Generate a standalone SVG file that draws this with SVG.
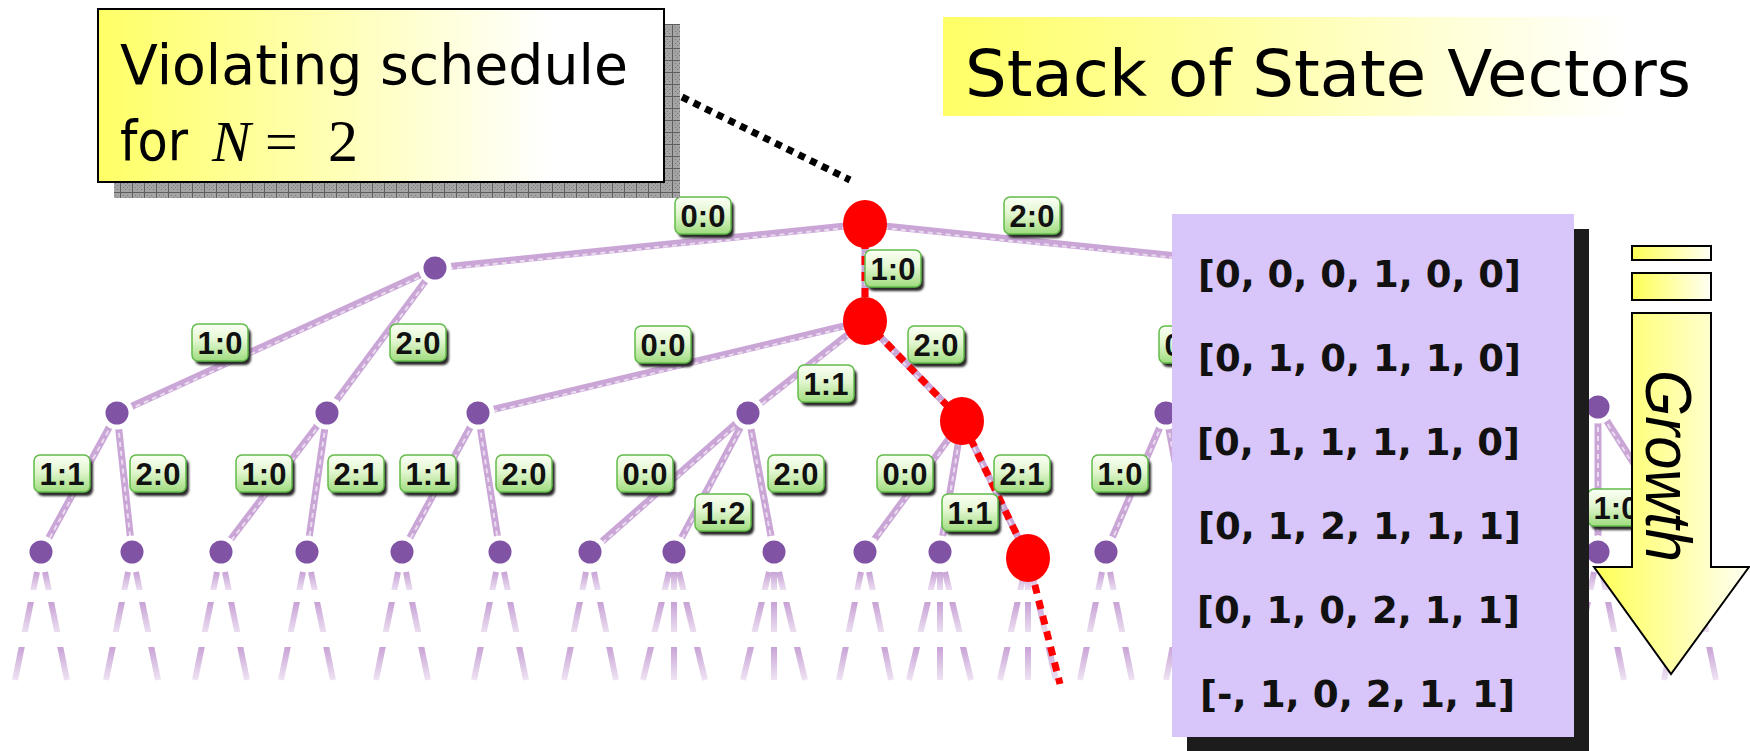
<svg xmlns="http://www.w3.org/2000/svg" xmlns:xlink="http://www.w3.org/1999/xlink" width="1750" height="751" viewBox="0 0 1750 751">
  <defs>
    <style>
      .edge { fill: none; stroke: #CAA6D7; stroke-width: 7; }
      .tex { fill: none; stroke: #F3E8F6; stroke-width: 2; stroke-dasharray: 5 4; opacity: 0.8; }
      .stub { fill: none; stroke: url(#fade); stroke-width: 6; }
      .node { fill: #8053A5; stroke: #FFFFFF; stroke-width: 5; }
      .hot { fill: #FF0000; }
      .trail { fill: none; stroke: #FF0000; stroke-width: 7; stroke-dasharray: 9 7; }
      .pointer { fill: none; stroke: #000000; stroke-width: 7; stroke-dasharray: 7 6; }
      .tag text { font-family: "Liberation Sans", Arial, sans-serif; font-weight: bold; font-size: 31px; fill: #111111; text-anchor: middle; }
      .head { font-family: "DejaVu Sans", Verdana, sans-serif; fill: #000000; }
      .vec { font-family: "DejaVu Sans", Verdana, sans-serif; font-weight: bold; font-size: 38px; fill: #111111; }
      .math { font-family: "Liberation Serif", "Times New Roman", serif; fill: #000000; }
    </style>
    <linearGradient id="callFill" x1="0" y1="0" x2="1" y2="0">
      <stop offset="0" stop-color="#FFFF66"/>
      <stop offset="0.8" stop-color="#FFFFFF"/>
    </linearGradient>
    <linearGradient id="titleFill" x1="0" y1="0" x2="1" y2="0">
      <stop offset="0" stop-color="#FFFF66"/>
      <stop offset="0.85" stop-color="#FFFFFF"/>
    </linearGradient>
    <linearGradient id="arrowFill" x1="0" y1="0" x2="1" y2="0">
      <stop offset="0" stop-color="#FFFF55"/>
      <stop offset="1" stop-color="#FFFFF4"/>
    </linearGradient>
    <linearGradient id="green" x1="0" y1="0" x2="0" y2="1">
      <stop offset="0" stop-color="#FBFFF5"/>
      <stop offset="0.45" stop-color="#E2F6D0"/>
      <stop offset="1" stop-color="#9FDC7E"/>
    </linearGradient>
    <linearGradient id="fade" gradientUnits="userSpaceOnUse" x1="0" y1="572" x2="0" y2="680">
      <stop offset="0" stop-color="#C8A2D6" stop-opacity="1"/>
      <stop offset="0.17" stop-color="#C8A2D6" stop-opacity="0.35"/>
      <stop offset="0.17" stop-color="#C8A2D6" stop-opacity="0"/>
      <stop offset="0.28" stop-color="#C8A2D6" stop-opacity="0"/>
      <stop offset="0.28" stop-color="#C8A2D6" stop-opacity="1"/>
      <stop offset="0.56" stop-color="#C8A2D6" stop-opacity="0.35"/>
      <stop offset="0.56" stop-color="#C8A2D6" stop-opacity="0"/>
      <stop offset="0.69" stop-color="#C8A2D6" stop-opacity="0"/>
      <stop offset="0.69" stop-color="#C8A2D6" stop-opacity="1"/>
      <stop offset="1" stop-color="#C8A2D6" stop-opacity="0.3"/>
    </linearGradient>
    <pattern id="hatch" width="12" height="12" patternUnits="userSpaceOnUse">
      <rect width="12" height="12" fill="#A4A4A4"/>
      <path d="M0 0.5H12M0.5 0V12" stroke="#5E5E5E" stroke-width="1"/>
      <path d="M3 3h1v1h-1zM7 3h1v1h-1zM5 5h1v1h-1zM9 5h1v1h-1zM3 7h1v1h-1zM7 7h1v1h-1zM5 9h1v1h-1zM9 9h1v1h-1z" fill="#787878"/>
    </pattern>
    <filter id="soft" x="-20%" y="-20%" width="140%" height="140%">
      <feGaussianBlur stdDeviation="1"/>
    </filter>
    <!-- edge label plate: shadow + green rounded box -->
    <g id="tag">
      <rect x="-25" y="-15" width="56" height="37" rx="6" fill="#2B2B2B" filter="url(#soft)"/>
      <rect x="-28" y="-19" width="56" height="37" rx="6" fill="url(#green)" stroke="#62BC4A" stroke-width="1.5"/>
    </g>
    <!-- all tree edges, parent to child -->
    <path id="edgeSet" d="M865,224 L435,268 M865,224 L865,321 M865,224 L1295,268
      M435,268 L117,413 M435,268 L327,413
      M865,321 L478,413 M865,321 L748,413 M865,321 L962,421
      M1295,268 L1166,413 M1295,268 L1598,407
      M117,413 L41,552 M117,413 L132,552
      M327,413 L221,552 M327,413 L307,552
      M478,413 L402,552 M478,413 L500,552
      M748,413 L590,552 M748,413 L674,552 M748,413 L774,552
      M962,421 L865,552 M962,421 L940,552 M962,421 L1028,558
      M1166,413 L1106,552 M1166,413 L1192,552
      M1598,407 L1598,552 M1598,407 L1690,552"/>
    <clipPath id="leftOfStack">
      <rect x="0" y="0" width="1172" height="751"/>
    </clipPath>
  </defs>

  <rect width="1750" height="751" fill="#FFFFFF"/>

  <!-- connectors -->
  <g id="connectors">
    <use xlink:href="#edgeSet" class="edge"/>
    <use xlink:href="#edgeSet" class="tex" transform="translate(0,2)"/>
    <!-- unexplored continuation below the deepest level -->
    <path class="stub" d="
      M37,572 L15,680 M45,572 L67,680
      M128,572 L106,680 M136,572 L158,680
      M217,572 L195,680 M225,572 L247,680
      M303,572 L281,680 M311,572 L333,680
      M398,572 L376,680 M406,572 L428,680
      M496,572 L474,680 M504,572 L526,680
      M586,572 L564,680 M594,572 L616,680
      M669,572 L643,680 M674,572 L674,680 M679,572 L705,680
      M769,572 L743,680 M774,572 L774,680 M779,572 L805,680
      M861,572 L839,680 M869,572 L891,680
      M935,572 L909,680 M940,572 L940,680 M945,572 L971,680
      M1023,578 L1000,680 M1028,578 L1028,680 M1033,578 L1056,680
      M1102,572 L1080,680 M1110,572 L1132,680
      M1188,572 L1166,680 M1196,572 L1218,680
      M1594,572 L1572,680 M1602,572 L1624,680
      M1686,572 L1664,680 M1694,572 L1716,680"/>
    <!-- violating schedule path -->
    <path class="trail" d="M865,224 V321 L962,421 L1028,558 L1060,684"/>
    <!-- callout pointer -->
    <path class="pointer" d="M682,97 L850,180"/>
  </g>

  <!-- edge labels (process:step) -->
  <g id="edge-labels" class="tag">
    <g transform="translate(703,216)"><use xlink:href="#tag"/><text y="11">0:0</text></g>
    <g transform="translate(1032,216)"><use xlink:href="#tag"/><text y="11">2:0</text></g>
    <g transform="translate(893,269)"><use xlink:href="#tag"/><text y="11">1:0</text></g>
    <g transform="translate(220,343)"><use xlink:href="#tag"/><text y="11">1:0</text></g>
    <g transform="translate(418,343)"><use xlink:href="#tag"/><text y="11">2:0</text></g>
    <g transform="translate(663,345)"><use xlink:href="#tag"/><text y="11">0:0</text></g>
    <g transform="translate(826,384)"><use xlink:href="#tag"/><text y="11">1:1</text></g>
    <g transform="translate(936,345)"><use xlink:href="#tag"/><text y="11">2:0</text></g>
    <g clip-path="url(#leftOfStack)">
      <g transform="translate(1187,345)"><use xlink:href="#tag"/><text x="-14" y="11">0</text></g>
    </g>
    <g transform="translate(62,474)"><use xlink:href="#tag"/><text y="11">1:1</text></g>
    <g transform="translate(158,474)"><use xlink:href="#tag"/><text y="11">2:0</text></g>
    <g transform="translate(264,474)"><use xlink:href="#tag"/><text y="11">1:0</text></g>
    <g transform="translate(356,474)"><use xlink:href="#tag"/><text y="11">2:1</text></g>
    <g transform="translate(428,474)"><use xlink:href="#tag"/><text y="11">1:1</text></g>
    <g transform="translate(524,474)"><use xlink:href="#tag"/><text y="11">2:0</text></g>
    <g transform="translate(645,474)"><use xlink:href="#tag"/><text y="11">0:0</text></g>
    <g transform="translate(723,513)"><use xlink:href="#tag"/><text y="11">1:2</text></g>
    <g transform="translate(796,474)"><use xlink:href="#tag"/><text y="11">2:0</text></g>
    <g transform="translate(905,474)"><use xlink:href="#tag"/><text y="11">0:0</text></g>
    <g transform="translate(970,513)"><use xlink:href="#tag"/><text y="11">1:1</text></g>
    <g transform="translate(1022,474)"><use xlink:href="#tag"/><text y="11">2:1</text></g>
    <g transform="translate(1120,474)"><use xlink:href="#tag"/><text y="11">1:0</text></g>
    <g transform="translate(1616,508)"><use xlink:href="#tag"/><text y="11">1:0</text></g>
  </g>

  <!-- state nodes -->
  <g id="n-root"><ellipse class="hot" cx="865" cy="224" rx="22" ry="24"/></g>
  <g id="n-1"><ellipse class="hot" cx="865" cy="321" rx="22" ry="24"/></g>
  <g id="n-0"><circle class="node" cx="435" cy="268" r="14"/></g>
  <g id="n-10"><circle class="node" cx="117" cy="413" r="14"/></g>
  <g id="n-20"><circle class="node" cx="327" cy="413" r="14"/></g>
  <g id="n-100"><circle class="node" cx="478" cy="413" r="14"/></g>
  <g id="n-111"><circle class="node" cx="748" cy="413" r="14"/></g>
  <g id="n-120"><ellipse class="hot" cx="962" cy="421" rx="22" ry="24"/></g>
  <g id="n-200"><circle class="node" cx="1166" cy="413" r="14"/></g>
  <g id="n-210"><circle class="node" cx="1598" cy="407" r="14"/></g>
  <g id="n-l3a"><circle class="node" cx="41" cy="552" r="14"/></g>
  <g id="n-l3b"><circle class="node" cx="132" cy="552" r="14"/></g>
  <g id="n-l3c"><circle class="node" cx="221" cy="552" r="14"/></g>
  <g id="n-l3d"><circle class="node" cx="307" cy="552" r="14"/></g>
  <g id="n-l3e"><circle class="node" cx="402" cy="552" r="14"/></g>
  <g id="n-l3f"><circle class="node" cx="500" cy="552" r="14"/></g>
  <g id="n-l3g"><circle class="node" cx="590" cy="552" r="14"/></g>
  <g id="n-l3h"><circle class="node" cx="674" cy="552" r="14"/></g>
  <g id="n-l3i"><circle class="node" cx="774" cy="552" r="14"/></g>
  <g id="n-l3j"><circle class="node" cx="865" cy="552" r="14"/></g>
  <g id="n-l3k"><circle class="node" cx="940" cy="552" r="14"/></g>
  <g id="n-l3l"><ellipse class="hot" cx="1028" cy="558" rx="22" ry="24"/></g>
  <g id="n-l3m"><circle class="node" cx="1106" cy="552" r="14"/></g>
  <g id="n-l3n"><circle class="node" cx="1598" cy="552" r="14"/></g>

  <!-- stack of state vectors -->
  <g id="stack">
    <rect x="1187" y="229" width="402" height="530" fill="#1C1C1C"/>
    <rect x="1172" y="214" width="402" height="523" fill="#D8C5F9"/>
    <text class="vec" x="1198" y="287" textLength="323" lengthAdjust="spacingAndGlyphs">[0, 0, 0, 1, 0, 0]</text>
    <text class="vec" x="1198" y="371" textLength="323" lengthAdjust="spacingAndGlyphs">[0, 1, 0, 1, 1, 0]</text>
    <text class="vec" x="1197" y="455" textLength="323" lengthAdjust="spacingAndGlyphs">[0, 1, 1, 1, 1, 0]</text>
    <text class="vec" x="1198" y="539" textLength="323" lengthAdjust="spacingAndGlyphs">[0, 1, 2, 1, 1, 1]</text>
    <text class="vec" x="1197" y="623" textLength="323" lengthAdjust="spacingAndGlyphs">[0, 1, 0, 2, 1, 1]</text>
    <text class="vec" x="1200" y="707" textLength="315" lengthAdjust="spacingAndGlyphs">[-, 1, 0, 2, 1, 1]</text>
  </g>

  <!-- growth arrow -->
  <g id="growth">
    <rect x="1632" y="246" width="79" height="14" fill="url(#arrowFill)" stroke="#000000" stroke-width="2"/>
    <rect x="1632" y="273" width="79" height="27" fill="url(#arrowFill)" stroke="#000000" stroke-width="2"/>
    <path d="M1632,313 H1711 V567 H1749 L1671,674 L1594,567 H1632 Z" fill="url(#arrowFill)" stroke="#000000" stroke-width="2"/>
    <text transform="translate(1646,370) rotate(90)" font-family="Liberation Sans, Arial, sans-serif" font-style="italic" font-size="64" textLength="192" lengthAdjust="spacingAndGlyphs" fill="#000000">Growth</text>
  </g>

  <!-- title -->
  <g id="title">
    <rect x="943" y="17" width="807" height="99" fill="url(#titleFill)"/>
    <text class="head" x="965" y="96" font-size="64" textLength="726" lengthAdjust="spacingAndGlyphs">Stack of State Vectors</text>
  </g>

  <!-- callout -->
  <g id="callout">
    <rect x="114" y="24" width="566" height="174" fill="url(#hatch)"/>
    <rect x="98" y="9" width="566" height="173" fill="url(#callFill)" stroke="#000000" stroke-width="2"/>
    <text class="head" x="120" y="84" font-size="55" textLength="508" lengthAdjust="spacingAndGlyphs">Violating schedule</text>
    <text class="head" x="120" y="160" font-size="55" textLength="68" lengthAdjust="spacingAndGlyphs">for</text>
    <text class="math" x="212" y="161" font-style="italic" font-size="58">N</text>
    <text class="math" x="265" y="161" font-size="58">=</text>
    <text class="math" x="328" y="161" font-size="60">2</text>
  </g>
</svg>
